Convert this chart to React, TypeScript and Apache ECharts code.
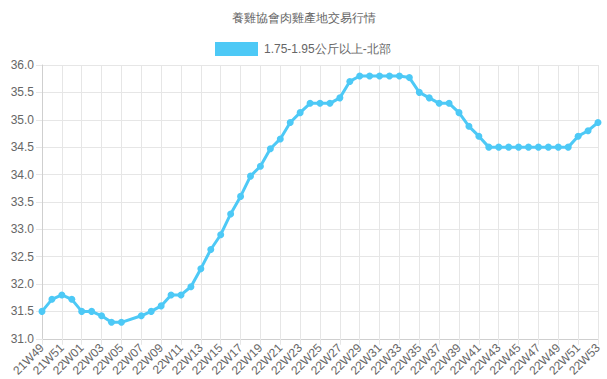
import React, { useEffect, useRef } from "react";
import * as echarts from "echarts";

const TITLE = "養雞協會肉雞產地交易行情";
const SERIES_NAME = "1.75-1.95公斤以上-北部";

const weeks21 = ["21W49", "21W50", "21W51", "21W52"];
const weeks22 = Array.from({ length: 53 }, (_, i) => "22W" + String(i + 1).padStart(2, "0"));
const categories = [...weeks21, ...weeks22];

const values: (number | null)[] = [
  31.5, 31.72, 31.8, 31.72, 31.5, 31.5, 31.42, 31.3, 31.3, null,
  31.42, 31.5, 31.6, 31.8, 31.8, 31.95, 32.28, 32.63, 32.9, 33.28,
  33.6, 33.97, 34.15, 34.47, 34.65, 34.95, 35.13, 35.3, 35.3, 35.3,
  35.4, 35.7, 35.8, 35.8, 35.8, 35.8, 35.8, 35.77, 35.5, 35.4,
  35.3, 35.3, 35.13, 34.88, 34.7, 34.5, 34.5, 34.5, 34.5, 34.5,
  34.5, 34.5, 34.5, 34.5, 34.7, 34.8, 34.95,
];

const yMin = 31;
const yMax = 36;
const yStep = 0.5;

const LINE_COLOR = "#4dc9f6";
const TEXT_COLOR = "#666";
const GRID_COLOR = "#e6e6e6";
const FONT = "'Liberation Sans', Arial, Helvetica, sans-serif";

export default function App() {
  const ref = useRef<HTMLDivElement>(null);
  useEffect(() => {
    if (!ref.current) return;
    const chart = echarts.init(ref.current, undefined, { renderer: "svg" });
    chart.setOption({
      animation: false,
      backgroundColor: "#fff",
      textStyle: { fontFamily: FONT },
      title: {
        text: TITLE,
        left: "center",
        top: 12,
        padding: 0,
        textStyle: { fontSize: 12, fontWeight: "normal", color: TEXT_COLOR, fontFamily: FONT },
      },
      legend: {
        left: 215,
        top: 42,
        padding: 0,
        itemWidth: 43,
        itemHeight: 14,
        itemGap: 10,
        icon: "rect",
        textStyle: { fontSize: 12, color: TEXT_COLOR, fontFamily: FONT, padding: [0, 0, 0, 1] },
        data: [{ name: SERIES_NAME, itemStyle: { color: LINE_COLOR } }],
      },
      grid: { left: 42, right: 9, top: 65, bottom: 40, containLabel: false },
      xAxis: {
        type: "category",
        boundaryGap: false,
        data: categories,
        axisLine: { show: true, lineStyle: { color: "#cfcfcf" } },
        axisTick: { show: true, interval: 1, length: 6, lineStyle: { color: GRID_COLOR } },
        axisLabel: {
          interval: 1,
          rotate: 45,
          fontSize: 12,
          color: TEXT_COLOR,
          fontFamily: FONT,
          margin: 7,
        },
        splitLine: { show: true, interval: 1, lineStyle: { color: GRID_COLOR } },
      },
      yAxis: {
        type: "value",
        min: yMin,
        max: yMax,
        interval: yStep,
        axisLine: { show: true, lineStyle: { color: "#cfcfcf" } },
        axisTick: { show: true, length: 6, lineStyle: { color: GRID_COLOR } },
        axisLabel: {
          fontSize: 12,
          color: TEXT_COLOR,
          fontFamily: FONT,
          margin: 8,
          formatter: (v: number) => v.toFixed(1),
        },
        splitLine: { show: true, lineStyle: { color: GRID_COLOR } },
      },
      series: [
        {
          name: SERIES_NAME,
          type: "line",
          data: values,
          connectNulls: true,
          symbol: "circle",
          symbolSize: 7,
          showSymbol: true,
          showAllSymbol: true,
          color: LINE_COLOR,
          lineStyle: { width: 3, color: LINE_COLOR },
          itemStyle: { color: LINE_COLOR },
        },
      ],
    });
    return () => chart.dispose();
  }, []);
  return (
    <div
      ref={ref}
      style={{ position: "fixed", left: 0, top: 0, width: 607, height: 379, background: "#fff" }}
    />
  );
}
